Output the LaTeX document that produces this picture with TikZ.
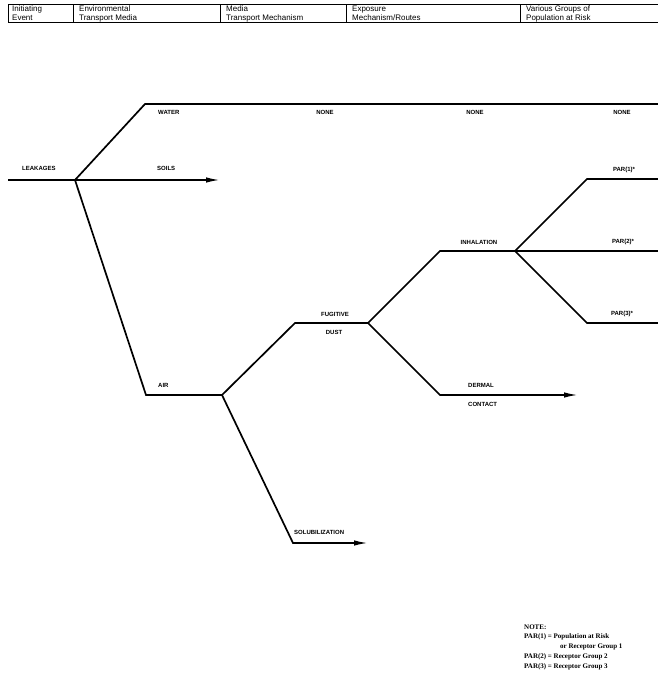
\documentclass[tikz,border=0pt]{standalone}
\usepackage{fontspec}
\setmainfont{Liberation Sans}
\newfontfamily\notefont{Liberation Serif}
\usetikzlibrary{arrows.meta}
\begin{document}
\begin{tikzpicture}[x=1pt,y=-1pt,
  branch/.style={line width=1.7pt, line join=miter},
  flow/.style={branch, -{Latex[length=14pt,width=5.5pt]}},
  rule/.style={line width=1pt},
  lbl/.style={font=\bfseries\fontsize{6}{7}\selectfont, inner sep=0pt},
  head/.style={font=\fontsize{8}{9}\selectfont, align=left, anchor=north west, inner sep=0pt},
  note/.style={font=\notefont\bfseries\fontsize{7}{8}\selectfont, anchor=west, inner sep=0pt}]
\useasboundingbox (0,0) rectangle (658,688);

% column headings
\draw[rule] (8,4) -- (658,4) (8,22.5) -- (658,22.5) (8,4) -- (8,22.5);
\foreach \cx in {73,220,346,520} \draw[rule] (\cx,4) -- (\cx,22.5);
\node[head] (h1) at (12,5.5) {Initiating\\Event};
\node[head] (h2) at (79,5.5) {Environmental\\Transport Media};
\node[head] (h3) at (226,5.5) {Media\\Transport Mechanism};
\node[head] (h4) at (352,5.5) {Exposure\\Mechanism/Routes};
\node[head] (h5) at (526,5.5) {Various Groups of\\Population at Risk};

% branch points
\coordinate (src) at (8,180);
\coordinate (j0) at (75,180);
\coordinate (soil) at (220,180);
\coordinate (wc) at (145,104);
\coordinate (wend) at (658,104);
\coordinate (ac) at (146,395);
\coordinate (j1) at (222,395);
\coordinate (fc) at (295,323);
\coordinate (j2) at (368,323);
\coordinate (ic) at (440,251);
\coordinate (j3) at (515,251);
\coordinate (p1c) at (587,179);
\coordinate (p1e) at (658,179);
\coordinate (p2e) at (658,251);
\coordinate (p3c) at (587,323);
\coordinate (p3e) at (658,323);
\coordinate (dc) at (440,395);
\coordinate (de) at (578,395);
\coordinate (sc) at (293,543);
\coordinate (se) at (368,543);

% connectors
\draw[branch] (src) -- (j0);
\draw[flow] (j0) -- (soil);
\draw[branch] (j0) -- (wc) -- (wend);
\draw[branch] (j0) -- (ac) -- (j1);
\draw[branch] (j1) -- (fc) -- (j2);
\draw[branch] (j2) -- (ic) -- (j3);
\draw[branch] (j3) -- (p1c) -- (p1e);
\draw[branch] (j3) -- (p2e);
\draw[branch] (j3) -- (p3c) -- (p3e);
\draw[flow] (j2) -- (dc) -- (de);
\draw[flow] (j1) -- (sc) -- (se);

% labels
\node[lbl, anchor=west] (lk) at (22,168) {LEAKAGES};
\node[lbl, anchor=west] (so) at (157,168) {SOILS};
\node[lbl, anchor=west] (wa) at (158,112) {WATER};
\node[lbl] (n1) at (325,112) {NONE};
\node[lbl] (n2) at (475,112) {NONE};
\node[lbl] (n3) at (622,112) {NONE};
\node[lbl, anchor=west] (ai) at (158,385) {AIR};
\node[lbl] (fu) at (335,314) {FUGITIVE};
\node[lbl] (du) at (334,332) {DUST};
\node[lbl] (in) at (479,242) {INHALATION};
\node[lbl] (pa1) at (624,170) {PAR(1)*};
\node[lbl] (pa2) at (623,242) {PAR(2)*};
\node[lbl] (pa3) at (622,314) {PAR(3)*};
\node[lbl, anchor=west] (de1) at (468,385) {DERMAL};
\node[lbl, anchor=west] (de2) at (468,404) {CONTACT};
\node[lbl, anchor=west] (sol) at (294,532) {SOLUBILIZATION};

% note
\node[note] (nt) at (524,627) {NOTE:};
\node[note] (nt1) at (524,637) {PAR(1) = Population at Risk};
\node[note] (nt2) at (560,647) {or Receptor Group 1};
\node[note] (nt3) at (524,657) {PAR(2) = Receptor Group 2};
\node[note] (nt4) at (524,667) {PAR(3) = Receptor Group 3};
\end{tikzpicture}
\end{document}
